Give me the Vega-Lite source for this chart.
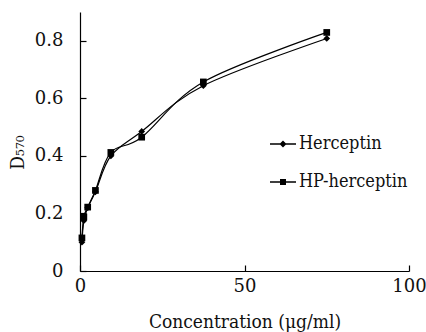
{
  "$schema": "https://vega.github.io/schema/vega-lite/v6.json",
  "width": 329,
  "height": 259,
  "autosize": {"type": "none"},
  "padding": {"left": 80, "top": 12, "right": 17, "bottom": 61},
  "background": "white",
  "config": {
    "view": {"stroke": null},
    "font": "DejaVu Serif",
    "axis": {
      "labelFont": "DejaVu Serif",
      "titleFont": "DejaVu Serif Condensed",
      "labelColor": "#111",
      "titleColor": "#111",
      "domainColor": "black",
      "tickColor": "black",
      "grid": false,
      "labelFontSize": 18,
      "titleFontSize": 19,
      "titleFontWeight": "normal",
      "tickSize": -6,
      "domainWidth": 1.2,
      "tickWidth": 1.2,
      "labelFlush": false
    }
  },
  "data": {
    "values": [
      {"conc": 0.586, "od": 0.100, "series": "Herceptin"},
      {"conc": 1.17, "od": 0.175, "series": "Herceptin"},
      {"conc": 2.34, "od": 0.220, "series": "Herceptin"},
      {"conc": 4.69, "od": 0.275, "series": "Herceptin"},
      {"conc": 9.375, "od": 0.400, "series": "Herceptin"},
      {"conc": 18.75, "od": 0.485, "series": "Herceptin"},
      {"conc": 37.5, "od": 0.644, "series": "Herceptin"},
      {"conc": 75, "od": 0.808, "series": "Herceptin"},
      {"conc": 0.586, "od": 0.115, "series": "HP-herceptin"},
      {"conc": 1.17, "od": 0.188, "series": "HP-herceptin"},
      {"conc": 2.34, "od": 0.222, "series": "HP-herceptin"},
      {"conc": 4.69, "od": 0.280, "series": "HP-herceptin"},
      {"conc": 9.375, "od": 0.412, "series": "HP-herceptin"},
      {"conc": 18.75, "od": 0.465, "series": "HP-herceptin"},
      {"conc": 37.5, "od": 0.657, "series": "HP-herceptin"},
      {"conc": 75, "od": 0.829, "series": "HP-herceptin"}
    ]
  },
  "encoding": {
    "x": {
      "field": "conc",
      "type": "quantitative",
      "scale": {"domain": [0, 100], "nice": false},
      "axis": {
        "values": [0, 50, 100],
        "title": "Concentration (μg/ml)",
        "labelPadding": 12,
        "titlePadding": 17
      }
    },
    "y": {
      "field": "od",
      "type": "quantitative",
      "scale": {"domain": [0, 0.9], "nice": false},
      "axis": {
        "values": [0, 0.2, 0.4, 0.6, 0.8],
        "labelExpr": "format(datum.value, '~g')",
        "title": "D₅₇₀",
        "labelPadding": 23,
        "titleX": -63,
        "titleY": 140,
        "titleAngle": -90,
        "titleBaseline": "middle",
        "titleAlign": "center"
      }
    }
  },
  "resolve": {"scale": {"shape": "independent"}, "legend": {"shape": "independent"}},
  "layer": [
    {
      "mark": {"type": "line", "interpolate": "cardinal", "color": "black", "strokeWidth": 1.2},
      "encoding": {"detail": {"field": "series"}}
    },
    {
      "mark": {"type": "point", "filled": true, "color": "black", "opacity": 1, "size": 45},
      "encoding": {
        "shape": {
          "field": "series",
          "type": "nominal",
          "scale": {"domain": ["Herceptin", "HP-herceptin"], "range": ["diamond", "square"]},
          "legend": null
        }
      }
    },
    {
      "transform": [{"filter": "false"}],
      "mark": {"type": "point", "filled": true, "color": "black", "opacity": 1},
      "encoding": {
        "shape": {
          "field": "series",
          "type": "nominal",
          "scale": {
            "domain": ["Herceptin", "HP-herceptin"],
            "range": ["M-1,-0.05H1V0.05H-1ZM-0.27,0L0,-0.27L0.27,0L0,0.27Z", "M-1,-0.05H1V0.05H-1ZM-0.23,-0.23H0.23V0.23H-0.23Z"]
          },
          "legend": {
            "title": null,
            "orient": "none",
            "legendX": 189,
            "legendY": 118,
            "padding": 0,
            "symbolSize": 676,
            "symbolFillColor": "black",
            "symbolOpacity": 1,
            "labelFont": "DejaVu Serif Condensed",
            "labelFontSize": 18,
            "labelColor": "#111",
            "labelOffset": 2,
            "rowPadding": 15
          }
        }
      }
    }
  ]
}
